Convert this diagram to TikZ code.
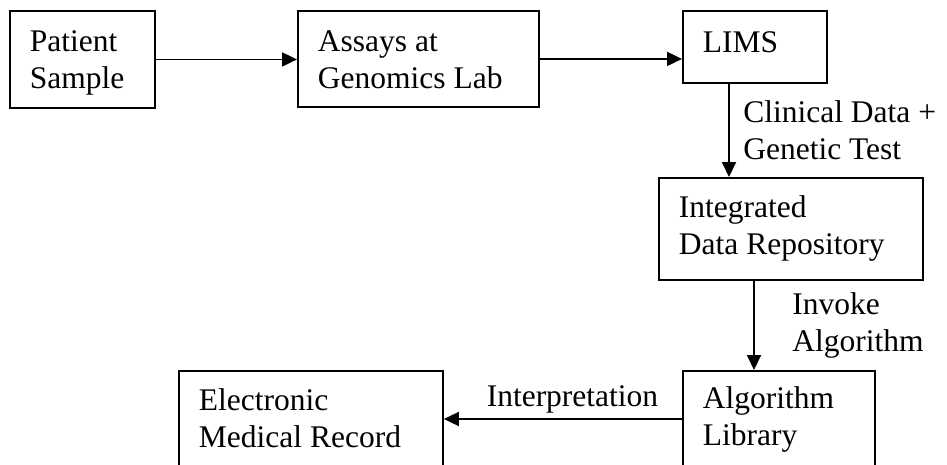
\documentclass[tikz,border=0pt]{standalone}
\usepackage{fontspec}
\setmainfont{Liberation Serif}
\usetikzlibrary{arrows.meta,calc}

\tikzset{
  blk/.style={draw, anchor=north west, align=flush left, inner xsep=20pt, inner ysep=0pt, text height=41pt},
  lbl/.style={align=left}
}

\begin{document}
\begin{tikzpicture}[x=1pt, y=-1pt, >={Triangle[length=15pt,width=14pt]}, line width=1.9pt,
    font=\fontsize{31.5}{36.5}\selectfont]
    \useasboundingbox (0,0) rectangle (947,464);
    \clip (0,0) rectangle (947,464);

    % top row
    \node[blk, text width=105pt, text depth=56pt] (pat) at (9,10) {Patient\\Sample};
    \node[blk, text width=201pt, text depth=55pt] (assay) at (297,10) {Assays at\\Genomics Lab};
    \node[blk, text width=104pt, text height=42pt, text depth=30pt] (lims) at (682,10) {LIMS};

    % right column
    \node[blk, text width=224pt, text height=40pt, text depth=62pt] (idr) at (658,177) {Integrated\\Data Repository};
    \node[blk, text width=152pt, text height=38pt, text depth=72pt] (alg) at (682,370) {Algorithm\\Library};

    % bottom left
    \node[blk, text width=224pt, text height=40pt, text depth=70pt] (emr) at (178,370) {Electronic\\Medical Record};

    % arrows
    \draw[->] (pat.east) -- (pat.east -| assay.west);
    \draw[->] (assay.east) -- (assay.east -| lims.west);

    \coordinate (limsout) at ($(lims.south west)+(47,0)$);
    \draw[->] (limsout) -- (limsout |- idr.north)
        node[midway, right=10pt, lbl] {Clinical Data +\\Genetic Test};

    \coordinate (idrout) at ($(idr.south west)+(96,0)$);
    \draw[->] (idrout) -- (idrout |- alg.north)
        node[midway, right=34pt, lbl] {Invoke\\Algorithm};

    \coordinate (algout) at ($(alg.north west)+(0,49)$);
    \draw[->] (algout) -- (algout -| emr.east)
        node[pos=0.46, above, inner sep=5pt] {Interpretation};
\end{tikzpicture}
\end{document}
